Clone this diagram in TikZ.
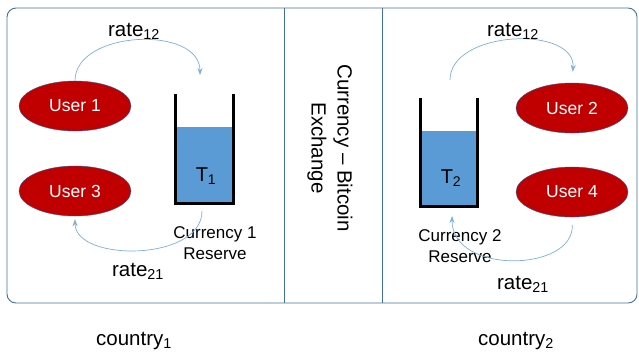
\documentclass[tikz,border=0pt]{standalone}
\usepackage{fontspec}
\setmainfont{Liberation Sans}
\usetikzlibrary{arrows.meta,shapes.geometric}
\definecolor{userred}{HTML}{C00000}
\definecolor{userline}{HTML}{2F528F}
\definecolor{waterblue}{HTML}{5B9BD5}
\definecolor{frameblue}{HTML}{41719C}
\definecolor{flowblue}{HTML}{7DAEDD}

\begin{document}
\begin{tikzpicture}[x=1pt,y=-1pt,
  user/.style={ellipse,draw=userline,fill=userred,text=white,minimum width=112pt,minimum height=50pt,inner sep=0pt,font=\fontsize{17.5}{19}\selectfont},
  water/.style={fill=waterblue,minimum width=57pt,minimum height=76pt,inner sep=0pt},
  wall/.style={line width=2.8pt,line join=miter},
  flow/.style={-{Stealth[length=7pt,width=5pt]},flowblue,line width=0.7pt},
  lbl/.style={font=\fontsize{20.5}{26}\selectfont},
  note/.style={align=center,font=\fontsize{17}{21}\selectfont},
  tank/.style={font=\fontsize{20}{22}\selectfont}
]
\useasboundingbox (0,0) rectangle (639,354);
% frame and the two dividers
\draw[frameblue,line width=0.9pt,rounded corners=9pt] (7,8) rectangle (637,303);
\draw[frameblue,line width=0.6pt] (284,8) -- (284,303);
\draw[frameblue,line width=0.6pt] (382,8) -- (382,303);

% users
\node[user] (u1) at (75,106) {User 1};
\node[user] (u3) at (75,191) {User 3};
\node[user] (u2) at (572,108) {User 2};
\node[user] (u4) at (572,192) {User 4};

% reserves
\node[water] (w1) at (204.5,165) {};
\draw[wall] ([yshift=33pt]w1.north west) |- (w1.south east) -- ([yshift=33pt]w1.north east);
\node[tank] (t1) at (206,176) {T\textsubscript{1}};
\node[note] (res1) at (215,243) {Currency 1\\Reserve};

\node[water] (w2) at (449,168.5) {};
\draw[wall] ([yshift=32pt]w2.north west) |- (w2.south east) -- ([yshift=32pt]w2.north east);
\node[tank] (t2) at (451,178) {T\textsubscript{2}};
\node[note] (res2) at (460,246) {Currency 2\\Reserve};

\node[lbl,rotate=-90,align=center] (xchg) at (330,148) {Currency – Bitcoin\\Exchange};

% exchange flows
\coordinate (in1) at (200,75);
\coordinate (out1) at (202,211);
\coordinate (out2) at (450,80);
\coordinate (in2) at (452,216);
\draw[flow] (u1.north) .. controls (75,30) and (200,25) .. (in1);
\draw[flow,shorten >=3pt] (out1) .. controls (202,262) and (75,262) .. (u3.south);
\draw[flow,shorten >=11pt] (out2) .. controls (450,30) and (576,25) .. (u2.north);
\draw[flow,shorten <=8pt] (u4.south) .. controls (574,272) and (452,275) .. (in2);

\node[lbl] (r12a) at (134,31) {rate\textsubscript{12}};
\node[lbl] (r21a) at (138,271) {rate\textsubscript{21}};
\node[lbl] (r12b) at (513,31) {rate\textsubscript{12}};
\node[lbl] (r21b) at (523,284) {rate\textsubscript{21}};

\node[lbl] (c1) at (134,341) {country\textsubscript{1}};
\node[lbl] (c2) at (516,341) {country\textsubscript{2}};
\end{tikzpicture}
\end{document}
